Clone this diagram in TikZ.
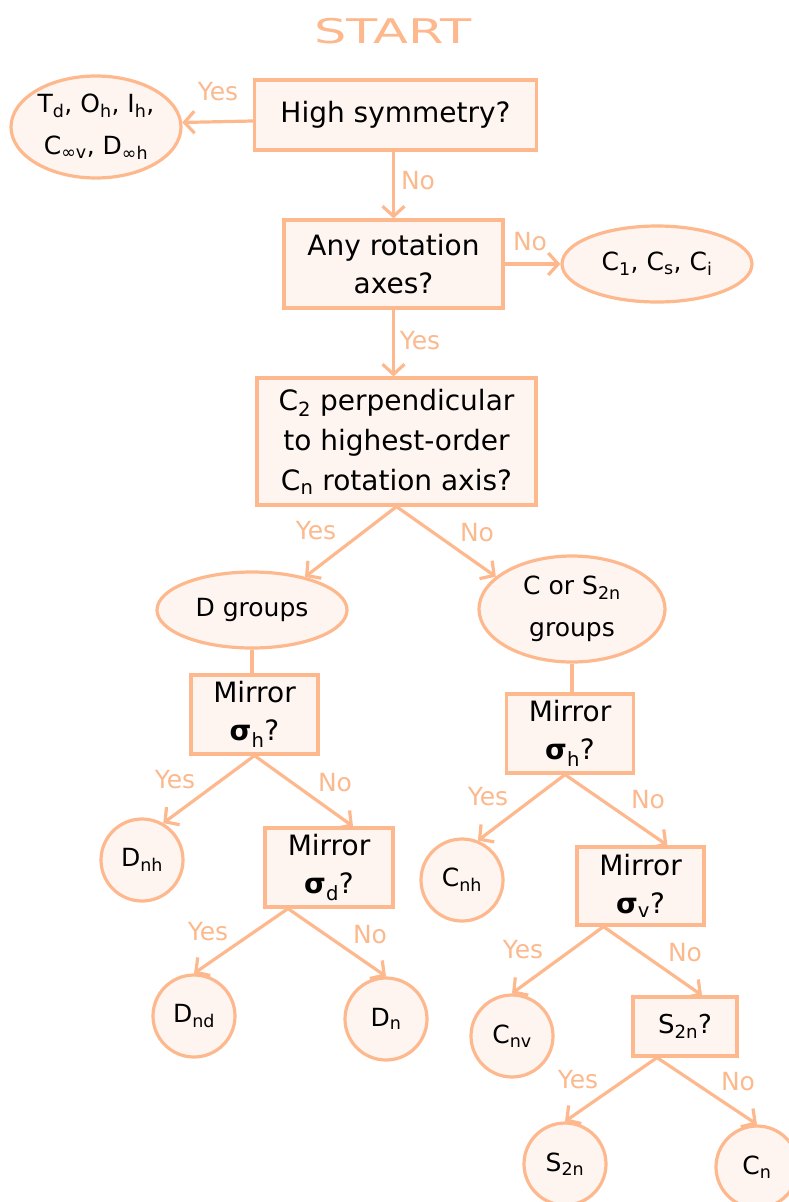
\documentclass[tikz,border=0pt]{standalone}
\usepackage{fontspec}
\setmainfont{DejaVu Sans}
\usetikzlibrary{arrows.meta,shapes.geometric}
\definecolor{peach}{HTML}{FDB98D}
\definecolor{peachfill}{HTML}{FEF4F0}
\definecolor{labelpeach}{HTML}{FBB98E}
\newcommand{\sbs}[1]{\textsubscript{#1}}
\newcommand{\sig}{\textbf{σ}}

\begin{document}
\begin{tikzpicture}[x=1pt,y=-1pt,
  box/.style={draw=peach, fill=peachfill, line width=3.2pt, rectangle, align=center,
    inner sep=0pt, font=\fontsize{28}{38}\selectfont},
  oval/.style={draw=peach, fill=peachfill, line width=3.2pt, ellipse, align=center,
    inner sep=-16pt, font=\fontsize{25}{42}\selectfont},
  leaf/.style={draw=peach, fill=peachfill, line width=3.2pt, circle, minimum size=82pt,
    inner sep=0pt, font=\fontsize{25}{28}\selectfont},
  link/.style={draw=peach, line width=3.2pt},
  arr/.style={link, -{Straight Barb[length=10pt,width=22pt]}},
  ans/.style={text=labelpeach, font=\fontsize{25}{28}\selectfont}
]
\useasboundingbox (0,0) rectangle (789,1202);

% title
\node[text=peach, font=\fontsize{34}{40}\selectfont, xscale=1.5] (start) at (393,31) {START};

% question boxes
\node[box, minimum width=282pt, minimum height=70pt] (hs) at (395.5,115) {High symmetry?};
\node[box, minimum width=219pt, minimum height=88pt] (rot) at (393.5,264) {Any rotation\\axes?};
\node[box, minimum width=279pt, minimum height=127pt, font=\fontsize{28}{40}\selectfont] (c2) at (396.5,441.5)
  {C\sbs{2} perpendicular\\to highest-order\\C\sbs{n} rotation axis?};
\node[box, minimum width=127pt, minimum height=79pt] (mh1) at (254.5,714.5) {Mirror\\\sig\sbs{h}?};
\node[box, minimum width=128pt, minimum height=79pt] (md) at (329,867.5) {Mirror\\\sig\sbs{d}?};
\node[box, minimum width=127pt, minimum height=79pt] (mh2) at (570,733.5) {Mirror\\\sig\sbs{h}?};
\node[box, minimum width=127pt, minimum height=78pt] (mv) at (640.5,886) {Mirror\\\sig\sbs{v}?};
\node[box, minimum width=104pt, minimum height=59pt, font=\fontsize{26}{30}\selectfont] (s2q) at (685,1026.5) {S\sbs{2n}?};

% group ellipses
\node[oval, minimum width=170pt, minimum height=102pt] (hi) at (96,127)
  {T\sbs{d}, O\sbs{h}, I\sbs{h},\\C\sbs{∞v}, D\sbs{∞h}};
\node[oval, minimum width=190pt, minimum height=76pt] (c1) at (657,264) {C\sbs{1}, C\sbs{s}, C\sbs{i}};
\node[oval, minimum width=190pt, minimum height=76pt] (dg) at (252,610) {D groups};
\node[oval, minimum width=186pt, minimum height=106pt] (cs) at (572,609) {C or S\sbs{2n}\\groups};

% point groups
\node[leaf] (dnh) at (142,860) {D\sbs{nh}};
\node[leaf] (dnd) at (194,1016) {D\sbs{nd}};
\node[leaf] (dn) at (386,1019) {D\sbs{n}};
\node[leaf] (cnh) at (462,880) {C\sbs{nh}};
\node[leaf] (cnv) at (512,1036) {C\sbs{nv}};
\node[leaf] (s2n) at (565,1164) {S\sbs{2n}};
\node[leaf] (cn) at (757,1167) {C\sbs{n}};

% connectors
\draw[arr] ([yshift=-6pt]hs.west) -- (hi.3);
\draw[arr] (rot.north |- hs.south) -- (rot.north);
\draw[arr] (rot.east) -- (c1.west);
\draw[arr] (rot.south) -- (rot.south |- c2.north);
\draw[arr] (c2.south) -- (dg.32);
\draw[arr] (c2.south) -- (cs.157);
\draw[link] (dg.south) -- (dg.south |- mh1.north);
\draw[link] (cs.south) -- (cs.south |- mh2.north);
\draw[arr] (mh1.south) -- (dnh.60);
\draw[arr] (mh1.south) -- ([xshift=24pt]md.north);
\draw[arr] ([xshift=-41pt]md.south) -- (dnd.north);
\draw[arr] ([xshift=-41pt]md.south) -- (dn.north);
\draw[arr] ([xshift=-5pt]mh2.south) -- (cnh.68);
\draw[arr] ([xshift=-5pt]mh2.south) -- ([xshift=27pt]mv.north);
\draw[arr] ([xshift=-37pt]mv.south) -- (cnv.north);
\draw[arr] ([xshift=-37pt]mv.south) -- ([xshift=17pt]s2q.north);
\draw[arr] ([xshift=-28pt]s2q.south) -- (s2n.north);
\draw[arr] ([xshift=-28pt]s2q.south) -- (cn.north);

% answers
\node[ans] (y1) at (218,92) {Yes};
\node[ans] (n1) at (418,181) {No};
\node[ans] (n2) at (530,242) {No};
\node[ans] (y2) at (420,341) {Yes};
\node[ans] (y3) at (316,531) {Yes};
\node[ans] (n3) at (477,533) {No};
\node[ans] (y4) at (175,780) {Yes};
\node[ans] (n4) at (335,783) {No};
\node[ans] (y5) at (208,932) {Yes};
\node[ans] (n5) at (370,935) {No};
\node[ans] (y6) at (488,797) {Yes};
\node[ans] (n6) at (648,800) {No};
\node[ans] (y7) at (523,950) {Yes};
\node[ans] (n7) at (685,953) {No};
\node[ans] (y8) at (578,1080) {Yes};
\node[ans] (n8) at (738,1082) {No};
\end{tikzpicture}
\end{document}
